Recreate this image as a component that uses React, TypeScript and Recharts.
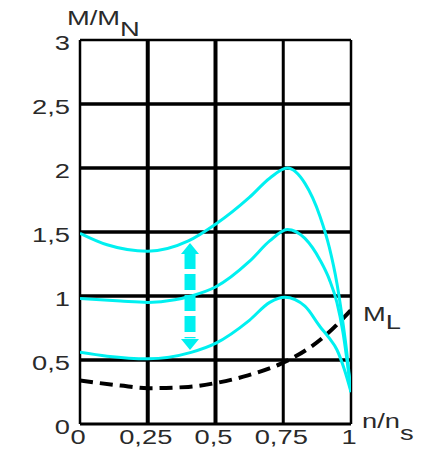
import React from "react";
import {
  ComposedChart,
  Line,
  XAxis,
  YAxis,
  ReferenceLine,
} from "recharts";

const xTicks = [0, 0.25, 0.5, 0.75, 1];
const yTicks = [0, 0.5, 1, 1.5, 2, 2.5, 3];

const curveHigh = [
  { x: 0, y: 1.49 },
  { x: 0.1, y: 1.4 },
  { x: 0.25, y: 1.35 },
  { x: 0.4, y: 1.43 },
  { x: 0.5, y: 1.56 },
  { x: 0.625, y: 1.77 },
  { x: 0.7, y: 1.92 },
  { x: 0.765, y: 2.0 },
  { x: 0.83, y: 1.88 },
  { x: 0.886, y: 1.62 },
  { x: 0.92, y: 1.38 },
  { x: 0.948, y: 1.1 },
  { x: 0.967, y: 0.84 },
  { x: 0.985, y: 0.55 },
  { x: 1, y: 0.25 },
];

const curveMid = [
  { x: 0, y: 0.98 },
  { x: 0.15, y: 0.96 },
  { x: 0.25, y: 0.95 },
  { x: 0.35, y: 0.97 },
  { x: 0.41, y: 1.0 },
  { x: 0.5, y: 1.07 },
  { x: 0.625, y: 1.27 },
  { x: 0.7, y: 1.43 },
  { x: 0.765, y: 1.52 },
  { x: 0.83, y: 1.45 },
  { x: 0.886, y: 1.28 },
  { x: 0.92, y: 1.13 },
  { x: 0.948, y: 0.95 },
  { x: 0.97, y: 0.72 },
  { x: 1, y: 0.25 },
];

const curveLow = [
  { x: 0, y: 0.56 },
  { x: 0.1, y: 0.53 },
  { x: 0.25, y: 0.51 },
  { x: 0.41, y: 0.56 },
  { x: 0.5, y: 0.63 },
  { x: 0.625, y: 0.81 },
  { x: 0.7, y: 0.95 },
  { x: 0.756, y: 0.99 },
  { x: 0.83, y: 0.92 },
  { x: 0.886, y: 0.76 },
  { x: 0.92, y: 0.67 },
  { x: 0.948, y: 0.58 },
  { x: 0.975, y: 0.43 },
  { x: 1, y: 0.25 },
];

const loadCurve = [
  { x: 0, y: 0.34 },
  { x: 0.15, y: 0.3 },
  { x: 0.25, y: 0.28 },
  { x: 0.4, y: 0.29 },
  { x: 0.5, y: 0.32 },
  { x: 0.62, y: 0.38 },
  { x: 0.74, y: 0.47 },
  { x: 0.85, y: 0.6 },
  { x: 0.91, y: 0.7 },
  { x: 1, y: 0.89 },
];

const arrowShaft = [
  { x: 0.406, y: 1.336 },
  { x: 0.406, y: 0.67 },
];

const arrowTips = [
  { x: 0.406, y: 1.414, dir: "up" },
  { x: 0.406, y: 0.578, dir: "down" },
];

const CYAN = "#00f0f0";
const FONT = '"Liberation Sans", Arial, sans-serif';
const TEXT = "#2a2a2a";

const fmt = (v: number) => String(v).replace(".", ",");

const YTick = (props: any) => {
  const { x, y, payload } = props;
  return (
    <text
      transform={`translate(${x},${y + 3}) scale(1.3,1)`}
      textAnchor="end"
      dominantBaseline="central"
      fontSize={21}
      fontFamily={FONT}
      fill={TEXT}
    >
      {fmt(payload.value)}
    </text>
  );
};

const XTick = (props: any) => {
  const { x, y, payload } = props;
  return (
    <text
      transform={`translate(${x - 2},${y}) scale(1.3,1)`}
      textAnchor="middle"
      dominantBaseline="central"
      fontSize={21}
      fontFamily={FONT}
      fill={TEXT}
    >
      {fmt(payload.value)}
    </text>
  );
};

const ArrowHead = (props: any) => {
  const { cx, cy, payload } = props;
  if (cx == null || cy == null) return null;
  const h = 11;
  const w = 9;
  const pts =
    payload.dir === "up"
      ? `${cx},${cy} ${cx - w},${cy + h} ${cx + w},${cy + h}`
      : `${cx},${cy} ${cx - w},${cy - h} ${cx + w},${cy - h}`;
  return <polygon key={payload.dir} points={pts} fill={CYAN} />;
};

const innerX = [0.25, 0.5, 0.75];
const innerY = [0.5, 1, 1.5, 2, 2.5];

const labelStyle: React.CSSProperties = {
  position: "absolute",
  fontFamily: FONT,
  fontSize: 21,
  color: TEXT,
  transform: "scaleX(1.3)",
  transformOrigin: "left top",
  whiteSpace: "nowrap",
  lineHeight: 1,
};

export default function App() {
  return (
    <div
      style={{
        position: "absolute",
        left: 0,
        top: 0,
        width: 428,
        height: 453,
        background: "#fff",
        overflow: "hidden",
      }}
    >
      <ComposedChart
        width={428}
        height={453}
        margin={{ top: 40, right: 77, bottom: 0, left: 0 }}
      >
        <XAxis
          dataKey="x"
          type="number"
          domain={[0, 1]}
          ticks={xTicks}
          tick={<XTick />}
          tickLine={false}
          axisLine={false}
          tickSize={0}
          tickMargin={13}
          height={29}
          allowDataOverflow
        />
        <YAxis
          dataKey="y"
          type="number"
          domain={[0, 3]}
          ticks={yTicks}
          tick={<YTick />}
          tickLine={false}
          axisLine={false}
          tickSize={0}
          tickMargin={10}
          width={80}
          allowDataOverflow
        />
        {innerY.map((v) => (
          <ReferenceLine key={`y${v}`} y={v} stroke="#000" strokeWidth={3.5} />
        ))}
        {innerX.map((v) => (
          <ReferenceLine
            key={`x${v}`}
            x={v}
            stroke="#000"
            strokeWidth={v === 0.75 ? 3 : 4}
          />
        ))}
        <ReferenceLine x={0} stroke="#000" strokeWidth={2.5} />
        <ReferenceLine x={1} stroke="#000" strokeWidth={2.5} />
        <ReferenceLine y={0} stroke="#000" strokeWidth={3} />
        <ReferenceLine y={3} stroke="#000" strokeWidth={2.5} />

        <Line
          data={loadCurve}
          dataKey="y"
          type="monotone"
          stroke="#000"
          strokeWidth={4}
          strokeDasharray="13 7"
          dot={false}
          isAnimationActive={false}
        />
        <Line
          data={curveLow}
          dataKey="y"
          type="monotone"
          stroke={CYAN}
          strokeWidth={3}
          dot={false}
          isAnimationActive={false}
        />
        <Line
          data={curveMid}
          dataKey="y"
          type="monotone"
          stroke={CYAN}
          strokeWidth={3}
          dot={false}
          isAnimationActive={false}
        />
        <Line
          data={curveHigh}
          dataKey="y"
          type="monotone"
          stroke={CYAN}
          strokeWidth={3}
          dot={false}
          isAnimationActive={false}
        />
        <Line
          data={arrowShaft}
          dataKey="y"
          type="linear"
          stroke={CYAN}
          strokeWidth={11}
          strokeDasharray="16 5"
          dot={false}
          isAnimationActive={false}
        />
        <Line
          data={arrowTips}
          dataKey="y"
          type="linear"
          stroke="none"
          dot={<ArrowHead />}
          isAnimationActive={false}
        />
      </ComposedChart>

      <div style={{ ...labelStyle, left: 67, top: 7 }}>
        M/M<span style={{ position: "relative", top: 11 }}>N</span>
      </div>
      <div style={{ ...labelStyle, left: 363, top: 303 }}>
        M<span style={{ position: "relative", top: 8 }}>L</span>
      </div>
      <div style={{ ...labelStyle, left: 362, top: 410 }}>
        n/n<span style={{ position: "relative", top: 12 }}>s</span>
      </div>
    </div>
  );
}
